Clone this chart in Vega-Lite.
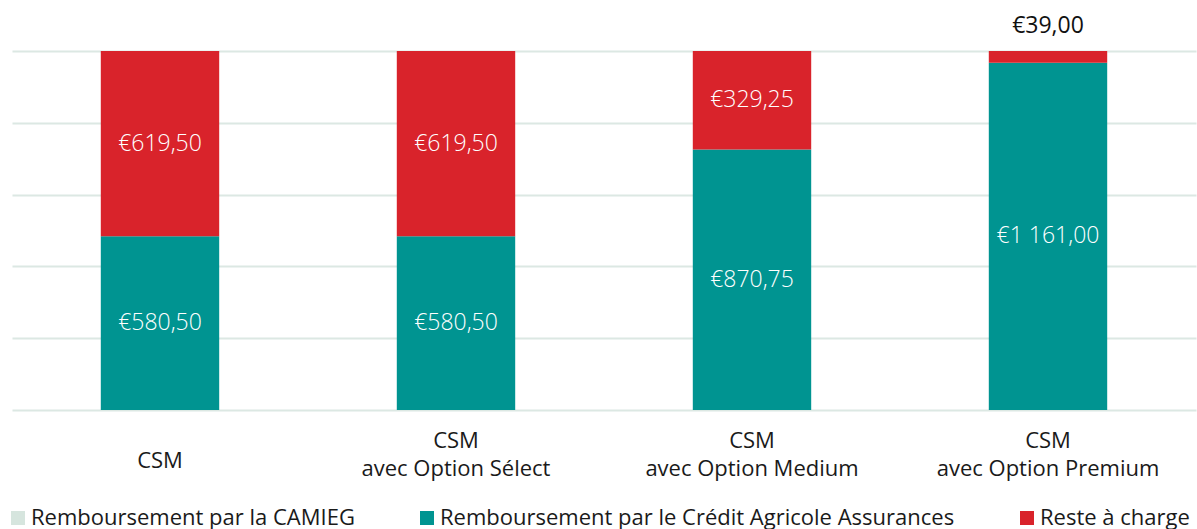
{
  "$schema": "https://vega.github.io/schema/vega-lite/v6.json",
  "autosize": {"type": "none"},
  "width": 1184,
  "height": 359,
  "padding": {"left": 12, "top": 51, "right": 1, "bottom": 119},
  "background": "white",
  "config": {
    "font": "Open Sans",
    "view": {"stroke": null}
  },
  "data": {
    "values": [
      {"cat": "CSM", "series": "Remboursement par la CAMIEG", "ord": 0, "value": 0, "label": "€0,00"},
      {"cat": "CSM", "series": "Remboursement par le Crédit Agricole Assurances", "ord": 1, "value": 580.5, "label": "€580,50"},
      {"cat": "CSM", "series": "Reste à charge", "ord": 2, "value": 619.5, "label": "€619,50"},
      {"cat": "CSM|avec Option Sélect", "series": "Remboursement par la CAMIEG", "ord": 0, "value": 0, "label": "€0,00"},
      {"cat": "CSM|avec Option Sélect", "series": "Remboursement par le Crédit Agricole Assurances", "ord": 1, "value": 580.5, "label": "€580,50"},
      {"cat": "CSM|avec Option Sélect", "series": "Reste à charge", "ord": 2, "value": 619.5, "label": "€619,50"},
      {"cat": "CSM|avec Option Medium", "series": "Remboursement par la CAMIEG", "ord": 0, "value": 0, "label": "€0,00"},
      {"cat": "CSM|avec Option Medium", "series": "Remboursement par le Crédit Agricole Assurances", "ord": 1, "value": 870.75, "label": "€870,75"},
      {"cat": "CSM|avec Option Medium", "series": "Reste à charge", "ord": 2, "value": 329.25, "label": "€329,25"},
      {"cat": "CSM|avec Option Premium", "series": "Remboursement par la CAMIEG", "ord": 0, "value": 0, "label": "€0,00"},
      {"cat": "CSM|avec Option Premium", "series": "Remboursement par le Crédit Agricole Assurances", "ord": 1, "value": 1161, "label": "€1 161,00"},
      {"cat": "CSM|avec Option Premium", "series": "Reste à charge", "ord": 2, "value": 39, "label": "€39,00"}
    ]
  },
  "transform": [
    {"stack": "value", "groupby": ["cat"], "sort": [{"field": "ord", "order": "ascending"}], "as": ["y0", "y1"]},
    {"calculate": "(datum.y0 + datum.y1) / 2", "as": "ymid"}
  ],
  "encoding": {
    "x": {
      "field": "cat",
      "type": "nominal",
      "sort": null,
      "scale": {"paddingInner": 0.6, "paddingOuter": 0.3},
      "axis": {
        "title": null,
        "labelAngle": 0,
        "labelExpr": "split(datum.label, '|')",
        "labelFontSize": 22,
        "labelColor": "#1a1a1a",
        "labelFont": "Open Sans",
        "labelLineHeight": 28,
        "labelBaseline": "middle",
        "labelPadding": {"condition": {"test": "datum.value == 'CSM'", "value": 50}, "value": 30},
        "ticks": false,
        "tickSize": 0,
        "domain": false,
        "grid": false,
        "labelLimit": 400
      }
    }
  },
  "layer": [
    {
      "mark": {"type": "bar"},
      "encoding": {
        "y": {
          "field": "y1",
          "type": "quantitative",
          "scale": {"domain": [0, 1200], "nice": false},
          "axis": {
            "title": null,
            "labels": false,
            "ticks": false,
            "domain": false,
            "grid": true,
            "values": [0, 240, 480, 720, 960, 1200],
            "gridColor": "#dce8e3",
            "gridWidth": 2
          }
        },
        "y2": {"field": "y0"},
        "color": {
          "field": "series",
          "type": "nominal",
          "scale": {
            "domain": ["Remboursement par la CAMIEG", "Remboursement par le Crédit Agricole Assurances", "Reste à charge"],
            "range": ["#d6e5de", "#009491", "#d9232b"]
          },
          "legend": {
            "title": null,
            "orient": "none",
            "direction": "horizontal",
            "legendX": -5,
            "legendY": 456,
            "symbolType": "square",
            "symbolSize": 196,
            "symbolStrokeWidth": 0,
            "labelFontSize": 22,
            "labelColor": "#1a1a1a",
            "labelFont": "Open Sans",
            "labelOffset": 2,
            "columnPadding": 61,
            "labelLimit": 600
          }
        }
      }
    },
    {
      "transform": [{"filter": "datum.value >= 100"}],
      "mark": {"type": "text", "color": "white", "fontSize": 23, "font": "Open Sans", "fontWeight": 300, "baseline": "middle"},
      "encoding": {
        "y": {"field": "ymid", "type": "quantitative"},
        "text": {"field": "label"}
      }
    },
    {
      "transform": [{"filter": "datum.value > 0 && datum.value < 100"}],
      "mark": {"type": "text", "color": "#111111", "fontSize": 23, "font": "Open Sans", "fontWeight": 400, "baseline": "middle", "dy": -25},
      "encoding": {
        "y": {"field": "y1", "type": "quantitative"},
        "text": {"field": "label"}
      }
    }
  ]
}
